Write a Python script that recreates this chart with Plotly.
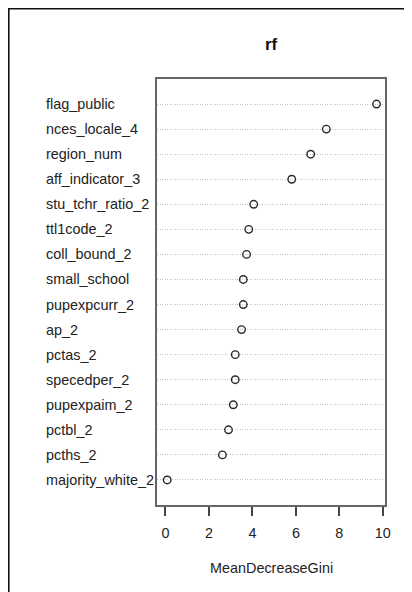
import plotly.graph_objects as go

variables = ["flag_public", "nces_locale_4", "region_num", "aff_indicator_3",
             "stu_tchr_ratio_2", "ttl1code_2", "coll_bound_2", "small_school",
             "pupexpcurr_2", "ap_2", "pctas_2", "specedper_2", "pupexpaim_2",
             "pctbl_2", "pcths_2", "majority_white_2"]
gini = [9.71, 7.40, 6.68, 5.81, 4.06, 3.83, 3.73, 3.58, 3.58, 3.50,
        3.21, 3.21, 3.12, 2.90, 2.62, 0.08]
x_ticks = [0, 2, 4, 6, 8, 10]

n = len(variables)
ypos = [n - i for i in range(n)]

# page body adds an 8px offset; figure coordinates below are relative to it
OFF = 8
W, H = 412 - OFF, 592 - OFF
L, T = 157 - OFF, 79 - OFF
R = W - (385 - OFF)
B = H - (505 - OFF)
pw, ph = W - L - R, H - T - B

def px_x(px):
    return (px - OFF - L) / pw

def px_y(py):
    return (H - B - (py - OFF)) / ph

FONT = "Liberation Sans, Arial, sans-serif"

fig = go.Figure()
fig.add_trace(go.Scatter(
    x=gini, y=ypos, mode="markers",
    marker=dict(symbol="circle-open", size=7.5, color="#2a2a2a",
                line=dict(width=1.4, color="#2a2a2a")),
    showlegend=False, hoverinfo="x+text", text=variables,
))

annotations = []
for name, y in zip(variables, ypos):
    annotations.append(dict(
        text=name, x=px_x(44), xref="paper", y=y, yref="y",
        xanchor="left", yanchor="middle", showarrow=False,
        font=dict(family=FONT, size=14.4, color="#222222"),
    ))
annotations.append(dict(
    text="MeanDecreaseGini", x=0.5, xref="paper", y=px_y(568), yref="paper",
    xanchor="center", yanchor="middle", showarrow=False,
    font=dict(family=FONT, size=14.4, color="#222222"),
))
annotations.append(dict(
    text="<b>rf</b>", x=0.5, xref="paper", y=px_y(45), yref="paper",
    xanchor="center", yanchor="middle", showarrow=False,
    font=dict(family=FONT, size=17, color="#111111"),
))

shapes = [dict(
    type="rect", xref="paper", yref="paper",
    x0=px_x(8.8), y0=px_y(8.8), x1=px_x(440), y1=px_y(640),
    line=dict(color="#111111", width=1.6), layer="above",
)]

fig.update_layout(
    width=W, height=H,
    margin=dict(l=L, r=R, t=T, b=B, pad=0),
    paper_bgcolor="white", plot_bgcolor="white",
    annotations=annotations, shapes=shapes,
    font=dict(family=FONT, size=14, color="#222222"),
    xaxis=dict(
        range=[-0.39, 10.10], tickvals=x_ticks, ticktext=[str(t) for t in x_ticks],
        showgrid=False, zeroline=False,
        showline=True, mirror=True, linecolor="#666666", linewidth=2,
        ticks="outside", ticklen=9, tickwidth=1.5, tickcolor="#444444",
        ticklabelstandoff=5,
        tickfont=dict(family=FONT, size=14.4, color="#222222"),
    ),
    yaxis=dict(
        range=[0, n + 1], tickvals=ypos, showticklabels=False,
        showgrid=True, gridcolor="#c4c4c4", griddash="1px,1.5px", gridwidth=1,
        zeroline=False, showline=True, mirror=True,
        linecolor="#666666", linewidth=2, ticks="",
    ),
)

fig.write_html("out.html")
